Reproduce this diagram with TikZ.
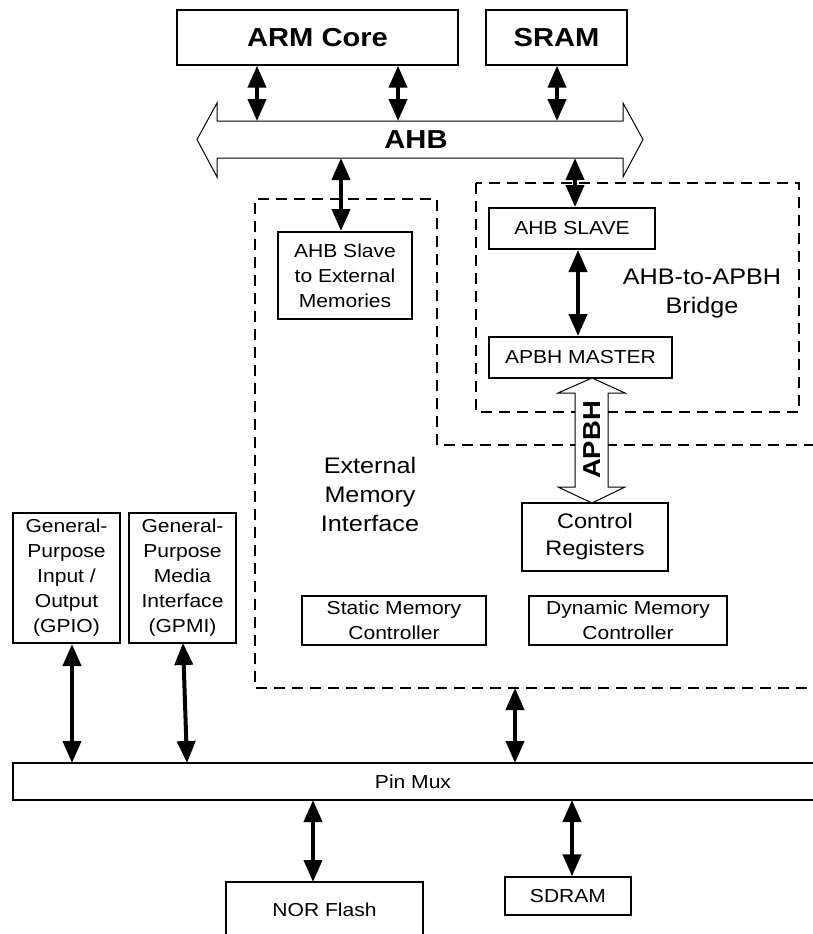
\documentclass[tikz,border=0pt]{standalone}
\usepackage{fontspec}
\setmainfont{Liberation Sans}[FakeStretch=1.12]
\usetikzlibrary{arrows.meta}
\begin{document}
\begin{tikzpicture}[x=1pt,y=-1pt,
  box/.style={draw,line width=2pt,align=center,inner sep=0pt},
  thinbox/.style={draw,line width=1.4pt,align=center,inner sep=0pt},
  fs/.style={font=\fontsize{18.8}{25}\selectfont},
  fl/.style={font=\fontsize{22.5}{29}\selectfont},
  fb/.style={font=\bfseries\fontsize{26}{30}\selectfont},
  biarrow/.style={line width=4pt,{Triangle[length=22pt,width=18pt]}-{Triangle[length=22pt,width=18pt]}},
  dashbox/.style={line width=2.5pt,dash pattern=on 11pt off 7pt},
  hollow/.style={draw,line width=1pt,fill=white}]
\useasboundingbox (0,0) rectangle (812,934);
\fill[white] (0,0) rectangle (812,934);

% top boxes
\node[thinbox,fb,minimum width=281,minimum height=55] (arm) at (317.5,37.5) {ARM Core};
\node[thinbox,fb,minimum width=141,minimum height=55] (sram) at (556.5,37.5) {SRAM};

% AHB bus
\draw[hollow] (197,139.5) -- (217,103) -- (217,121) -- (623,121) -- (623,103) -- (643,139.5)
  -- (623,177) -- (623,158) -- (217,158) -- (217,177) -- cycle;
\node[fb] (ahb) at (416,139.5) {AHB};
\coordinate (ahbT) at (0,121);
\coordinate (ahbB) at (0,158);
\coordinate (xa) at (257,0);
\coordinate (xb) at (398,0);
\coordinate (xc) at (557,0);
\coordinate (xd) at (341,0);
\coordinate (xe) at (575,0);
\coordinate (xf) at (578,0);
\coordinate (xg) at (72,0);
\coordinate (xh) at (572,0);

% dashed regions
\draw[dashbox] (815,445) -- (437,445) -- (437,199) -- (255,199) -- (255,688) -- (815,688);
\draw[dashbox] (476,183) rectangle (799,412);

% inner boxes
\node[box,fs,minimum width=134,minimum height=87] (ext) at (345,275.5) {AHB Slave\\to External\\Memories};
\node[box,fs,minimum width=166,minimum height=41] (slave) at (572,228.5) {AHB SLAVE};
\node[box,fs,minimum width=183,minimum height=41] (master) at (580.5,357.5) {APBH MASTER};
\node[fl,align=center] (bridge) at (702,294) {AHB-to-APBH\\Bridge};
\node[fl,align=center] (emi) at (370,494) {External\\Memory\\Interface};
\node[thinbox,font=\fontsize{21}{27}\selectfont,minimum width=146,minimum height=68] (ctrl) at (595,537) {Control\\Registers};
\node[thinbox,fs,minimum width=184,minimum height=49] (static) at (394,620.5) {Static Memory\\Controller};
\node[thinbox,fs,minimum width=198,minimum height=49] (dyn) at (628,620.5) {Dynamic Memory\\Controller};

% APBH hollow arrow
\draw[hollow] (592,378) -- (625,393) -- (608,393) -- (608,487) -- (625,487) -- (592,503)
  -- (558,487) -- (575,487) -- (575,393) -- (558,393) -- cycle;
\node[font=\bfseries\fontsize{24.5}{26}\selectfont,rotate=90] (apbh) at (592,440) {APBH};

% left boxes
\node[box,fs,minimum width=107,minimum height=130] (gpio) at (66.5,578) {General-\\Purpose\\Input /\\Output\\(GPIO)};
\node[box,fs,minimum width=107,minimum height=130] (gpmi) at (182.5,578) {General-\\Purpose\\Media\\Interface\\(GPMI)};

% Pin Mux
\draw[line width=1.4pt] (815,763) -- (13,763) -- (13,800) -- (815,800);
\coordinate (pmT) at (0,763);
\coordinate (pmB) at (0,800);
\node[fs] (pinmux) at (413,781.5) {Pin Mux};
\coordinate (emiB) at (515,688);
\coordinate (gpmiTop) at (183,643);
\coordinate (gpmiBot) at (187,763);

% bottom boxes
\draw[line width=1.4pt] (226,940) -- (226,882) -- (423,882) -- (423,940);
\coordinate (norT) at (313,882);
\node[fs] (nor) at (324.5,910) {NOR Flash};
\node[thinbox,fs,minimum width=126,minimum height=38] (sdram) at (568,896) {SDRAM};

% connectors
\draw[biarrow] (xa |- arm.south) -- (xa |- ahbT);
\draw[biarrow] (xb |- arm.south) -- (xb |- ahbT);
\draw[biarrow] (xc |- sram.south) -- (xc |- ahbT);
\draw[biarrow] (xd |- ahbB) -- (xd |- ext.north);
\draw[biarrow] (xe |- ahbB) -- (xe |- slave.north);
\draw[biarrow] (xf |- slave.south) -- (xf |- master.north);
\draw[biarrow] (xg |- gpio.south) -- (xg |- pmT);
\draw[biarrow] (gpmiTop) -- (gpmiBot);
\draw[biarrow] (emiB) -- (emiB |- pmT);
\draw[biarrow] (norT |- pmB) -- (norT);
\draw[biarrow] (xh |- pmB) -- (xh |- sdram.north);
\end{tikzpicture}
\end{document}
